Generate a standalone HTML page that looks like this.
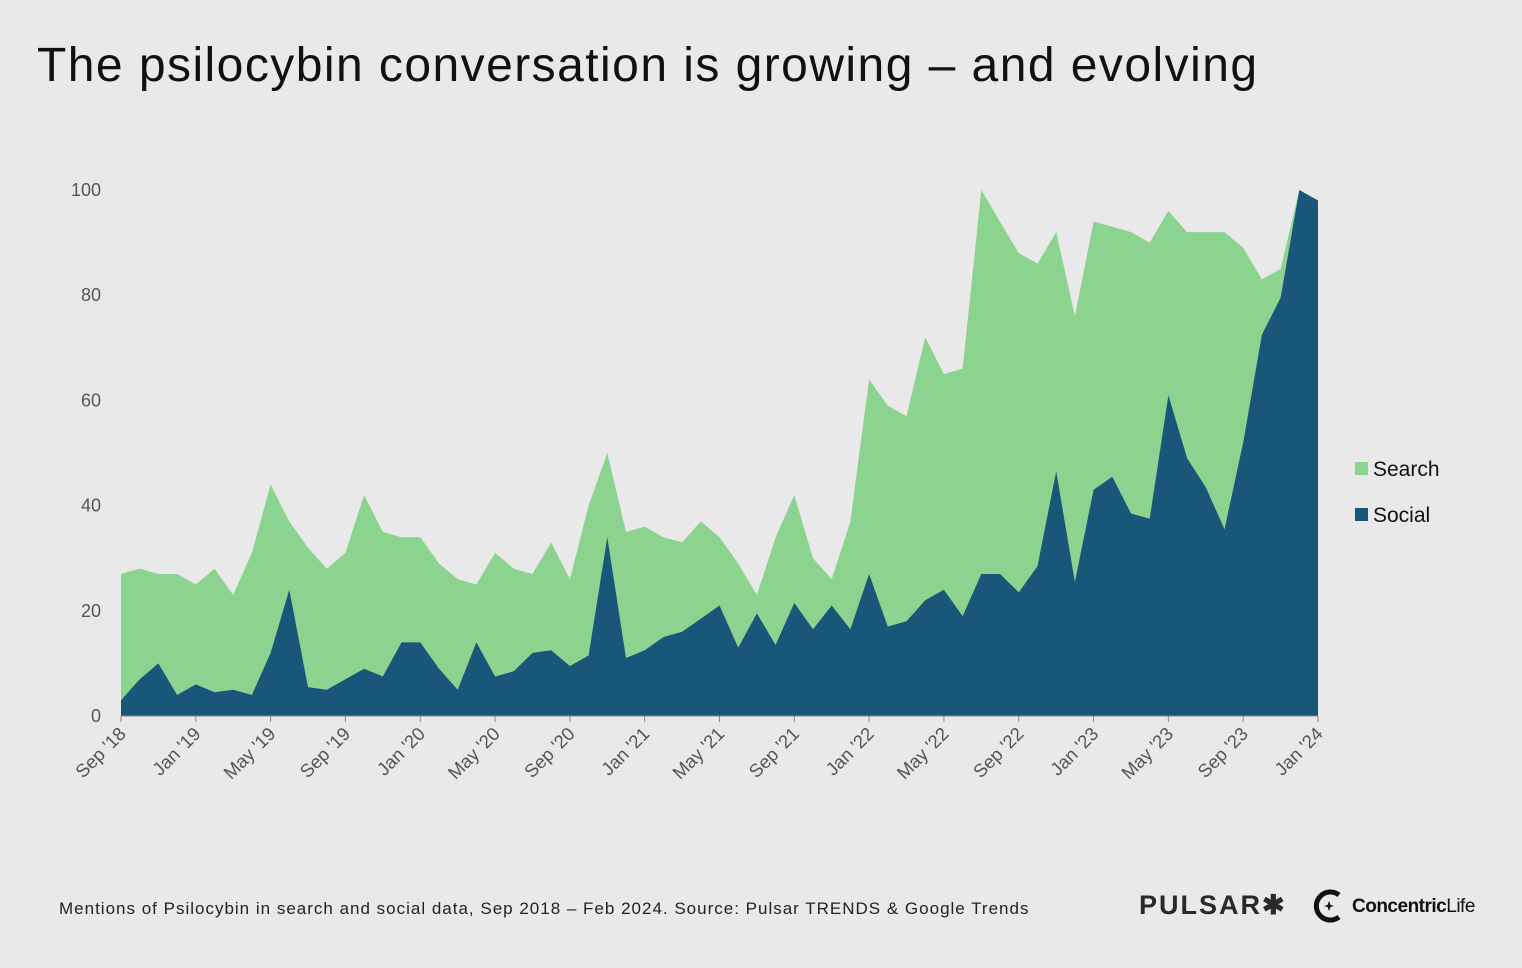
<!DOCTYPE html>
<html><head><meta charset="utf-8"><style>
html,body{margin:0;padding:0;background:#e8e9e8;}
body{width:1522px;height:968px;position:relative;overflow:hidden;font-family:"Liberation Sans",sans-serif;}
.t{position:absolute;left:37px;top:38px;font-size:48px;color:#111;letter-spacing:1.45px;}
.foot{position:absolute;left:59px;top:899px;font-size:17px;color:#222;letter-spacing:1.0px;}
</style></head><body>
<div class="t">The psilocybin conversation is growing – and evolving</div>
<svg id="c" width="1522" height="968" style="position:absolute;left:0;top:0"></svg>
<div class="foot">Mentions of Psilocybin in search and social data, Sep 2018 – Feb 2024. Source: Pulsar TRENDS &amp; Google Trends</div>
<div style="position:absolute;left:1139px;top:890px;font-size:27px;color:#2a2a2a;letter-spacing:2px;font-weight:bold">PULSAR✱</div>
<svg style="position:absolute;left:1312px;top:888px" width="34" height="36"><path d="M27 7 A14 14 0 1 0 27 29" fill="none" stroke="#111" stroke-width="5"/><path d="M17 13 L18.5 17 L22 18 L18.5 19 L17 23 L15.5 19 L12 18 L15.5 17Z" fill="#111"/></svg>
<div style="position:absolute;left:1352px;top:896px;font-size:19px;color:#111;letter-spacing:-0.5px"><b>Concentric</b>Life</div>
<script>
var top_=[27,28,27,27,25,28,23,31,44,37,32,28,31,42,35,34,34,29,26,25,31,28,27,33,26,40,50,35,36,34,33,37,34,29,23,34,42,30,26,37,64,59,57,72,65,66,100,94,88,86,92,76,94,93,92,90,96,92,92,92,89,83,85,100,98];
var soc=[3,7,10,4,6,4.5,5,4,12,24,5.5,5,7,9,7.5,14,14,9,5,14,7.5,8.5,12,12.5,9.5,11.5,34,11,12.5,15,16,18.5,21,13,19.5,13.5,21.5,16.5,21,16.5,27,17,18,22,24,19,27,27,23.5,28.5,46.5,25.5,43,45.5,38.5,37.5,61,49,43.5,35.5,52,72.5,79.5,100,98];
var X=i=>121+i*(1197/64),Y=v=>716-v*5.26;
function area(a){var s="M"+X(0)+","+Y(0);a.forEach((v,i)=>s+=" L"+X(i).toFixed(1)+","+Y(v).toFixed(1));return s+" L"+X(a.length-1)+","+Y(0)+"Z";}
var h='<path d="'+area(top_)+'" fill="#8dd390"/><path d="'+area(soc)+'" fill="#18567a"/>';
for(var v=0;v<=100;v+=20)h+='<text x="101" y="'+(Y(v)+6)+'" text-anchor="end" font-size="18" fill="#555" font-family="Liberation Sans">'+v+'</text>';
h+='<line x1="121" x2="1318" y1="716" y2="716" stroke="#888" stroke-width="1"/>';
var lab=["Sep '18","Jan '19","May '19","Sep '19","Jan '20","May '20","Sep '20","Jan '21","May '21","Sep '21","Jan '22","May '22","Sep '22","Jan '23","May '23","Sep '23","Jan '24"];
lab.forEach((l,k)=>{var x=X(k*4);if(k==16)x=1318;h+='<line x1="'+x+'" x2="'+x+'" y1="716" y2="722" stroke="#888"/><text transform="translate('+(x+6)+',735) rotate(-45)" text-anchor="end" font-size="18.5" fill="#555" font-family="Liberation Sans">'+l+'</text>';});
h+='<rect x="1355" y="462" width="13" height="13" fill="#8dd390"/><text x="1373" y="476" font-size="21" fill="#111" font-family="Liberation Sans">Search</text>';
h+='<rect x="1355" y="508" width="13" height="13" fill="#18567a"/><text x="1373" y="522" font-size="21" fill="#111" font-family="Liberation Sans">Social</text>';
document.getElementById('c').innerHTML=h;
</script>
</body></html>
